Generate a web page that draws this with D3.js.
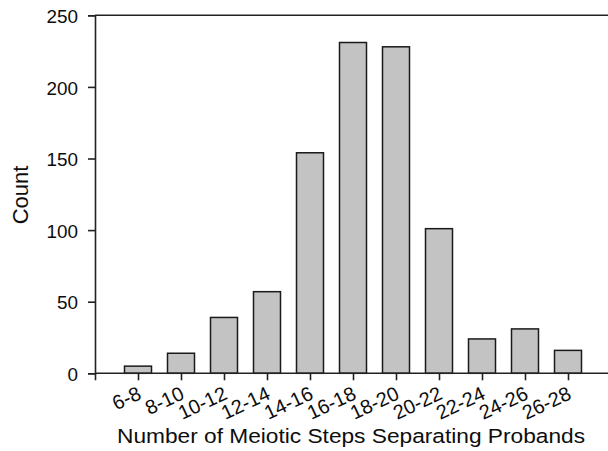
<!DOCTYPE html>
<html>
<head>
<meta charset="utf-8">
<script src="https://cdn.jsdelivr.net/npm/d3@7"></script>
<style>
  body { margin: 0; background: #fff; }
  text { font-family: "Liberation Sans", Arial, sans-serif; fill: #0d0d0d; }
</style>
</head>
<body>
<svg id="chart" width="608" height="451"></svg>
<script>
// histogram of meiotic steps
var bins = ["6-8", "8-10", "10-12", "12-14", "14-16", "16-18", "18-20", "20-22", "22-24", "24-26", "26-28"];
var binMid = [7, 9, 11, 13, 15, 17, 19, 21, 23, 25, 27];
var counts = [5, 14, 39, 57, 154, 231, 228, 101, 24, 31, 16];
var yTicks = [0, 50, 100, 150, 200, 250];

var svg = d3.select("#chart");
var stretch = 1.05; // the scanned type is a little wide

var x = d3.scaleLinear()
    .domain([5, 29])
    .range([95, 611]);

var y = d3.scaleLinear()
    .domain([0, 250])
    .range([373.3, 15.3]);

var barW = 27;

// top frame line
svg.append("line")
    .attr("x1", x(5)).attr("x2", 608)
    .attr("y1", y(250)).attr("y2", y(250))
    .attr("stroke", "#222").attr("stroke-width", 1.6);

// bars
svg.selectAll("rect.bar")
    .data(counts)
    .enter()
    .append("rect")
    .attr("class", "bar")
    .attr("x", function(d, i) { return x(binMid[i]) - barW / 2; })
    .attr("y", function(d) { return y(d); })
    .attr("width", barW)
    .attr("height", function(d) { return y(0) - y(d); })
    .attr("fill", "#c3c3c3")
    .attr("stroke", "#1a1a1a")
    .attr("stroke-width", 1.5);

// y axis
var yAxis = d3.axisLeft(y)
    .tickValues(yTicks)
    .tickSize(7)
    .tickPadding(10);

var gy = svg.append("g")
    .attr("transform", "translate(" + x(5) + ",0)")
    .call(yAxis);
gy.selectAll("text")
    .style("font-size", "18px")
    .attr("x", -17 / stretch)
    .attr("dy", "0.4em")
    .attr("transform", "scale(" + stretch + ",1)");

// x axis
var xAxis = d3.axisBottom(x)
    .tickValues([5].concat(binMid))
    .tickSize(7)
    .tickFormat(function(d) {
        var i = binMid.indexOf(d);
        return i < 0 ? "" : bins[i];
    });

var gx = svg.append("g")
    .attr("transform", "translate(0," + y(0) + ")")
    .call(xAxis);
gx.select(".domain").attr("d", "M" + x(5) + ",0H608");
gx.selectAll("text")
    .style("font-size", "20px")
    .attr("text-anchor", "end")
    .attr("dy", null)
    .attr("y", null)
    .attr("transform", "translate(4,25) rotate(-25)");

svg.selectAll(".domain, .tick line")
    .attr("stroke", "#222")
    .attr("stroke-width", 1.6);

// axis titles
svg.append("text")
    .attr("transform", "translate(28,195) rotate(-90)")
    .attr("text-anchor", "middle")
    .style("font-size", "22px")
    .text("Count");

svg.append("text")
    .attr("x", 351)
    .attr("y", 443)
    .attr("text-anchor", "middle")
    .attr("textLength", 468)
    .attr("lengthAdjust", "spacingAndGlyphs")
    .style("font-size", "20.5px")
    .text("Number of Meiotic Steps Separating Probands");
</script>
</body>
</html>
